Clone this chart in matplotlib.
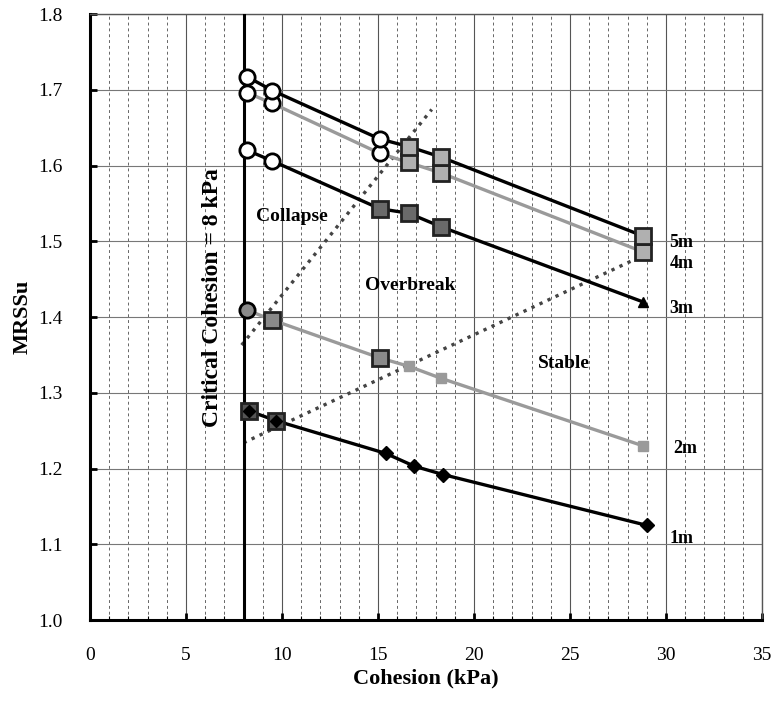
import numpy as np
import matplotlib
matplotlib.use('Agg')
import matplotlib.pyplot as plt

plt.rcParams['font.family'] = ['Liberation Serif', 'DejaVu Serif']

# depth series: cohesion (kPa) vs MRSSu, state C=collapse, O=overbreak, S=stable
labels = ['1m', '2m', '3m', '4m', '5m']
x_1m = [8.3, 9.7, 15.4, 16.9, 18.4, 29.0]
y_1m = [1.276, 1.263, 1.220, 1.203, 1.192, 1.125]
s_1m = ['O', 'O', 'S', 'S', 'S', 'S']
x_2m = [8.2, 9.5, 15.1, 16.6, 18.3, 28.8]
y_2m = [1.409, 1.396, 1.346, 1.335, 1.319, 1.230]
s_2m = ['C', 'O', 'O', 'S', 'S', 'S']
x_3m = [8.2, 9.5, 15.1, 16.6, 18.3, 28.8]
y_3m = [1.620, 1.606, 1.543, 1.537, 1.519, 1.420]
s_3m = ['C', 'C', 'O', 'O', 'O', 'S']
x_4m = [8.2, 9.5, 15.1, 16.6, 18.3, 28.8]
y_4m = [1.696, 1.682, 1.616, 1.604, 1.590, 1.486]
s_4m = ['C', 'C', 'C', 'O', 'O', 'O']
x_5m = [8.2, 9.5, 15.1, 16.6, 18.3, 28.8]
y_5m = [1.717, 1.699, 1.635, 1.625, 1.611, 1.507]
s_5m = ['C', 'C', 'C', 'O', 'O', 'O']

# boundaries between states
collapse_x = [7.9, 17.8]
collapse_y = [1.363, 1.674]
stable_x = [8.0, 28.2]
stable_y = [1.234, 1.474]
critical_c = 8

label_pos = [(30.8, 1.107), (31.0, 1.226), (30.8, 1.411), (30.8, 1.471), (30.8, 1.499)]

series = [
    (x_1m, y_1m, s_1m, 'black', 'D', 'black', '#555555'),
    (x_2m, y_2m, s_2m, '#9a9a9a', 's', '#9a9a9a', '#8a8a8a'),
    (x_3m, y_3m, s_3m, 'black', '^', 'black', '#6a6a6a'),
    (x_4m, y_4m, s_4m, '#9a9a9a', 'x', '#9a9a9a', '#b0b0b0'),
    (x_5m, y_5m, s_5m, 'black', '*', 'black', '#b0b0b0'),
]

fig = plt.figure(figsize=(7.71, 7.01), dpi=100)
ax = fig.add_axes([0.1167, 0.1155, 0.8716, 0.8645])

ax.set_xlim(0, 35)
ax.set_ylim(1.0, 1.8)
ax.set_xticks(np.arange(0, 36, 5))
ax.set_xticks(np.arange(0, 36, 1), minor=True)
ax.set_yticks(np.arange(1.0, 1.81, 0.1))
ax.set_yticklabels(['%.1f' % v for v in np.arange(1.0, 1.81, 0.1)])
ax.tick_params(axis='both', which='major', direction='in', length=5, width=2,
               labelsize=14, pad=19.5)
ax.tick_params(axis='x', which='minor', direction='in', length=3, width=0.8)
ax.tick_params(axis='y', which='minor', left=False)

ax.grid(True, axis='x', which='minor', color='#666666', lw=0.7, ls=(0, (3, 3)))
ax.grid(True, axis='x', which='major', color='#555555', lw=0.8, ls='-')
ax.grid(True, axis='y', which='major', color='#777777', lw=0.8, ls='-')
ax.set_axisbelow(True)

for side in ['left', 'bottom']:
    ax.spines[side].set_linewidth(2.2)
for side in ['top', 'right']:
    ax.spines[side].set_linewidth(1.0)
    ax.spines[side].set_color('#555555')

ax.axvline(critical_c, color='black', lw=2.2, zorder=3)

ax.plot(collapse_x, collapse_y, ls=':', color='#444444', lw=2.4, zorder=2)
ax.plot(stable_x, stable_y, ls=':', color='#444444', lw=2.4, zorder=2)

for i, (xs, ys, st, col, mk, mcol, sqfill) in enumerate(series):
    ax.plot(xs, ys, color=col, lw=2.4, marker=mk, ms=7 if mk != '*' else 8,
            mfc=mcol, mec=mcol, zorder=4)
    for xv, yv, s in zip(xs, ys, st):
        if s == 'C':
            fc = '#8a8a8a' if i == 1 else 'white'
            ax.plot(xv, yv, marker='o', ms=11, mfc=fc, mec='black', mew=2.0,
                    zorder=5)
        elif s == 'O':
            ax.plot(xv, yv, marker='s', ms=11, mfc=sqfill, mec='#222222',
                    mew=2.0, zorder=5)
            if i == 0:
                ax.plot(xv, yv, marker='D', ms=6, color='black', zorder=6)
    lx, ly = label_pos[i]
    ax.text(lx, ly, labels[i], fontsize=13, fontweight='bold', ha='center',
            va='center')

ax.text(10.5, 1.533, 'Collapse', fontsize=14, fontweight='bold', ha='center', va='center')
ax.text(16.7, 1.441, 'Overbreak', fontsize=14, fontweight='bold', ha='center', va='center')
ax.text(24.7, 1.338, 'Stable', fontsize=14, fontweight='bold', ha='center', va='center')
ax.text(6.4, 1.426, 'Critical Cohesion = 8 kPa', fontsize=17, fontweight='bold',
        rotation=90, ha='center', va='center')

ax.set_xlabel('Cohesion (kPa)', fontsize=16, fontweight='bold', labelpad=3)
ax.set_ylabel('MRSSu', fontsize=16, fontweight='bold', labelpad=4)

fig.savefig('out.png', dpi=100)
plt.close(fig)
